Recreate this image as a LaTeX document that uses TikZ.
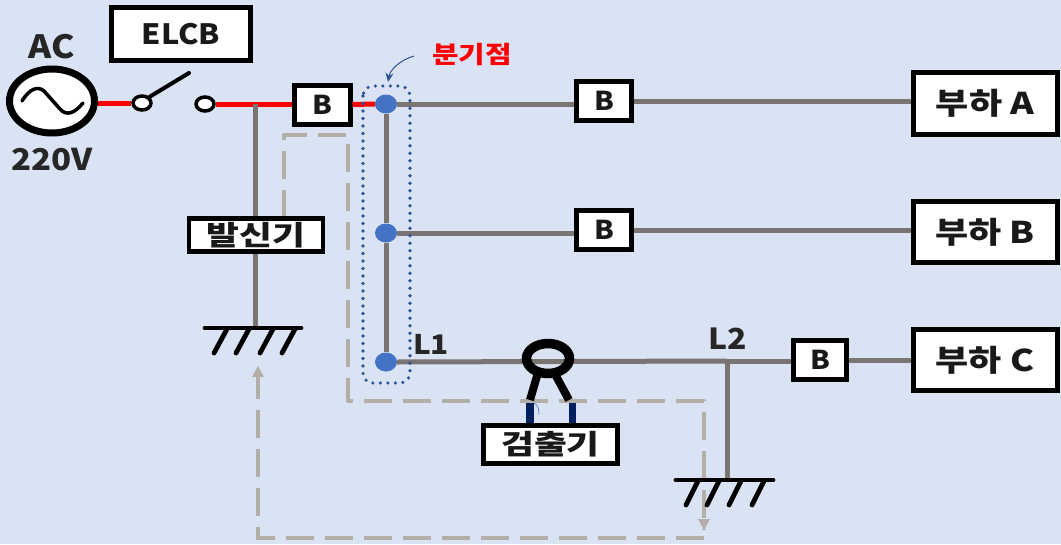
\documentclass[tikz,border=0pt]{standalone}
\usepackage{fontspec}
\setmainfont{Noto Sans CJK KR}[FakeStretch=1.1]
\newfontfamily\krb{Noto Sans CJK KR}[FakeStretch=1.2]
\newfontfamily\krc{Noto Sans CJK KR}[FakeStretch=1.3]
\usetikzlibrary{arrows.meta,shapes.geometric}
\definecolor{bgc}{HTML}{D9E3F3}
\definecolor{wire}{HTML}{7A7472}
\definecolor{dashc}{HTML}{B3AEA8}
\definecolor{dotblue}{HTML}{2F5597}
\definecolor{junc}{HTML}{4472C4}
\definecolor{navy}{HTML}{002060}
\tikzset{
  x=1pt,y=-1pt,
  boxn/.style={draw=black,line width=5pt,fill=white,inner sep=0pt,minimum width=#1,align=center,font=\fontsize{28}{30}\selectfont\bfseries,text=black!90},
  bbox/.style={font=\fontsize{26}{28}\selectfont\bfseries},
  krbox/.style={font=\fontsize{30}{32}\selectfont\krb\bfseries},
  krsm/.style={font=\fontsize{27.5}{30}\selectfont\krc\bfseries},
  lbl/.style={inner sep=0pt,font=\fontsize{27}{30}\selectfont\bfseries,text=black!85},
  wireg/.style={draw=wire,line width=5pt},
  wirer/.style={draw=red,line width=5pt},
  junct/.style={ellipse,fill=junc,minimum width=22pt,minimum height=19pt,inner sep=0pt},
  term/.style={ellipse,draw=black,line width=3.5pt,fill=white,minimum width=18pt,minimum height=14pt,inner sep=0pt},
  sig/.style={draw=dashc,line width=3.2pt,dash pattern=on 28pt off 11pt},
  gnd/.style={draw=black,line width=4.8pt,line cap=round},
}
\begin{document}
\begin{tikzpicture}
\useasboundingbox (0,0) rectangle (1061,544);
\fill[bgc] (0,0) rectangle (1061,544);
% coordinates
\coordinate (g1) at (255,328);
\coordinate (g2) at (727,480);
\coordinate (j0) at (255,104);
\coordinate (j2) at (727,361);
\coordinate (ringc) at (548,358.5);
% signal paths
\coordinate (s0) at (284,218);
\coordinate (s1) at (284,135);
\coordinate (s2) at (348,135);
\coordinate (s3) at (348,401);
\coordinate (s4) at (704,401);
\coordinate (s5) at (704,530);
\coordinate (s6) at (704,538);
\coordinate (s7) at (258,538);
\coordinate (s8) at (258,366);
\draw[sig,line join=round] (s0) -- (s1) -- (s2) -- (s3) -- (s4) -- (s5);
\fill[dashc] (s5) -- ++(-6,-11) -- ++(12,0) -- cycle;
\draw[sig] (s6) -- (s7) -- (s8);
\fill[dashc] (s8) -- ++(-6,11) -- ++(12,0) -- cycle;
% nodes
\node[junct] (d1) at (386,104) {};
\node[junct] (d2) at (386,233) {};
\node[junct] (d3) at (386,362) {};
\node[boxn=56pt,minimum height=39pt,bbox] (b0) at (322,104.5) {B};
\node[boxn=55pt,minimum height=39pt,bbox] (b1) at (604,101) {B};
\node[boxn=55pt,minimum height=39pt,bbox] (b2) at (604,230) {B};
\node[boxn=53pt,minimum height=39pt,bbox] (b3) at (820,360) {B};
\node[boxn=144pt,minimum height=62pt,krbox] (la) at (985,103.5) {부하 A};
\node[boxn=144pt,minimum height=61pt,krbox] (lb) at (985,232) {부하 B};
\node[boxn=144pt,minimum height=61pt,krbox] (lc) at (985,360) {부하 C};
\node[boxn=139pt,minimum height=53pt] (elcb) at (181,34) {ELCB};
\node[ellipse,draw=black,line width=7pt,fill=white,minimum width=85pt,minimum height=64pt,inner sep=0pt] (ac) at (52,101) {};
\node[term] (t1) at (142,103) {};
\node[term] (t2) at (205,104) {};
% wires
\draw[wirer] (ac.east |- t1.west) -- (t1.west);
\draw[wirer] (t2.east) -- (b0.west |- t2.east);
\draw[wirer] (b0.east) -- (d1.west);
\draw[wireg] (d1.east) -- (b1.west |- d1.east);
\draw[wireg] (b1.east) -- (la.west |- b1.east);
\draw[wireg] (d2.east) -- (b2.west |- d2.east);
\draw[wireg] (b2.east) -- (lb.west |- b2.east);
\draw[wireg] (d1.south) -- (d2.north);
\draw[wireg] (d2.south) -- (d3.north);
\draw[wireg] (d3.east) -- (j2);
\draw[wireg] (j2) -- (b3.west |- j2);
\draw[wireg] (b3.east) -- (lc.west);
\draw[wireg] (j2) -- (g2);
\draw[wireg] (j0) -- (g1);
% switch arm
\draw[draw=black,line width=4pt,line cap=round] (t1.north east) -- (189,73);
% ac sine
\draw[black,line width=3.5pt,line cap=round,line join=round] (22,101) .. controls (30,88) and (38,86) .. (44,91) -- (60,109) .. controls (66,116) and (74,114) .. (83,103);
% 발신기
\node[boxn=134pt,minimum height=33pt,krsm,line width=4.5pt] (tx) at (256,235) {\raisebox{-3pt}{발신기}};
% grounds
\draw[gnd] (205,328) -- (301,328);
\foreach \x in {227,249,273,295}{\draw[gnd] (\x,329) -- (\x-13,353);}
\draw[gnd] (676,480) -- (773,480);
\foreach \x in {698,719,741,764}{\draw[gnd] (\x,481) -- (\x-12,505);}
% clamp
\draw[black,line width=9.5pt] (ringc) ellipse (21.5pt and 15pt);
\draw[black,line width=8pt] (537,376) -- (530,400);
\draw[black,line width=8pt] (556,376) -- (569,400);
\fill[navy] (526,403) rectangle (534,423);
\fill[navy] (569,403) rectangle (576,423);
\draw[junc,line width=.6pt] (534,403) .. controls (538,405) and (539,409) .. (539,414);
\node[boxn=134pt,minimum height=38pt,krsm,line width=4.5pt] (det) at (550.5,444.5) {\raisebox{-2pt}{검출기}};
% dotted
\draw[dotblue,line width=3.6pt,line cap=round,dash pattern=on 0pt off 7.5pt,rounded corners=10pt] (363,86) rectangle (410,383);
% labels
\node[lbl,font=\fontsize{32}{34}\selectfont\bfseries] (tac) at (52,47) {AC};
\node[lbl,font=\fontsize{30}{32}\selectfont\bfseries] (tv) at (52,160) {220V};
\node[lbl] (tl1) at (431,344) {L1};
\node[lbl,font=\fontsize{29}{31}\selectfont\bfseries] (tl2) at (728,339) {L2};
\node[lbl,text=red,font=\fontsize{24}{26}\selectfont\krb\bfseries] (tb) at (472,54) {분기점};
\draw[dotblue,line width=1pt,-{Stealth[length=9pt,width=8pt]}] (tb.west)++(-18,2) .. controls (400,60) and (390,70) .. (388,82);
\end{tikzpicture}
\end{document}
